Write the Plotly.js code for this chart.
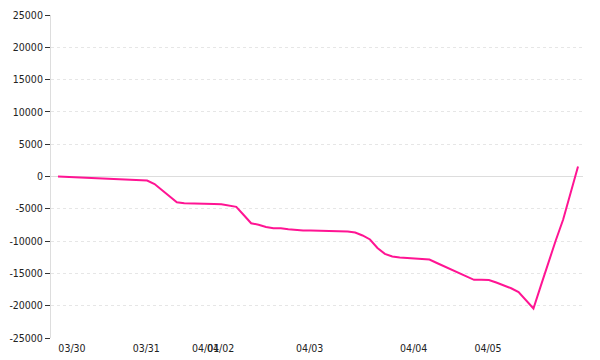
<!DOCTYPE html>
<html>
<head>
<meta charset="utf-8">
<script src="https://cdn.plot.ly/plotly-3.0.1.min.js"></script>
<style>html,body{margin:0;padding:0;background:#fff;}#chart{width:600px;height:360px;}</style>
</head>
<body>
<div id="chart"></div>
<script>
// cumulative values, one sample per index
const values = [
  0, -50, -100, -150, -200, -250, -320, -380, -440, -500,
  -550, -580, -620, -1160, -2090, -3020, -4000, -4150, -4200, -4220,
  -4240, -4250, -4280, -4490, -4690, -5960, -7240, -7460, -7820, -8000,
  -8000, -8160, -8310, -8360, -8370, -8380, -8400, -8400, -8470, -8510,
  -8670, -9130, -9750, -11070, -11970, -12380, -12540, -12620, -12660, -12770,
  -12850, -13390, -13930, -14440, -15020, -15560, -15990, -16000, -16020, -16410,
  -16810, -17300, -17880, -19200, -20430, -16900, -13300, -9900, -6660, -2690,
  1550
];
const tickIndex = [0, 10, 18, 20, 32, 46, 56];
const tickLabels = ["03/30", "03/31", "04/01", "04/02", "04/03", "04/04", "04/05"];
const yTicks = [-25000, -20000, -15000, -10000, -5000, 0, 5000, 10000, 15000, 20000, 25000];

const xs = values.map((_, i) => i);
const font = {family: "DejaVu Sans Condensed, DejaVu Sans, sans-serif", size: 10.5, color: "#222"};

Plotly.newPlot("chart", [{
  x: xs,
  y: values,
  type: "scatter",
  mode: "lines",
  line: {color: "#ff1493", width: 2},
  hoverinfo: "none"
}], {
  width: 600,
  height: 360,
  margin: {l: 51, r: 17, t: 15, b: 22},
  paper_bgcolor: "#fff",
  plot_bgcolor: "#fff",
  showlegend: false,
  font: font,
  xaxis: {
    range: [-0.94, 70.67],
    tickmode: "array",
    tickvals: tickIndex,
    ticktext: tickLabels,
    tickangle: 0,
    ticklabelshift: 14,
    ticklabelstandoff: 2,
    ticks: "",
    showgrid: false,
    zeroline: false,
    showline: false,
    tickfont: font
  },
  yaxis: {
    range: [-25000, 25000],
    tickmode: "array",
    tickvals: yTicks,
    ticktext: yTicks.map(v => String(v)),
    ticks: "outside",
    ticklen: 5,
    tickcolor: "#333",
    showline: true,
    linecolor: "#ddd",
    linewidth: 1,
    showgrid: true,
    gridcolor: "#e6e6e6",
    griddash: "dot",
    zeroline: true,
    zerolinecolor: "#ddd",
    zerolinewidth: 1,
    tickfont: font
  }
}, {staticPlot: true, displayModeBar: false});
</script>
</body>
</html>
